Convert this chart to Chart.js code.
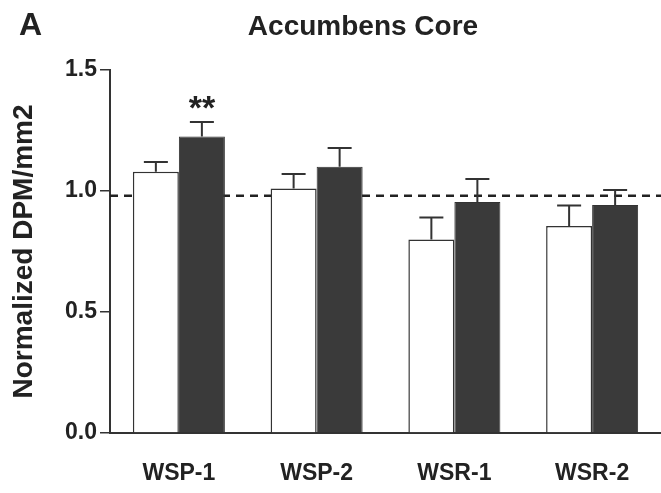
<!DOCTYPE html>
<html>
<head>
<meta charset="utf-8">
<script src="https://cdn.jsdelivr.net/npm/chart.js@4.4.1/dist/chart.umd.min.js"></script>
<style>
    html, body { margin: 0; padding: 0; background: #fff; }
    #wrap { width: 661px; height: 493px; position: relative; }
</style>
</head>
<body>
<div id="wrap"><canvas id="grafico"></canvas></div>
<script>
const categorias = ['WSP-1', 'WSP-2', 'WSR-1', 'WSR-2'];
const valoresAbertos = [1.08, 1.01, 0.80, 0.855];
const errosAbertos = [0.04, 0.06, 0.09, 0.085];
const valoresCheios = [1.225, 1.10, 0.955, 0.942];
const errosCheios = [0.06, 0.078, 0.095, 0.062];
const ticksY = [0.0, 0.5, 1.0, 1.5];
const linhaReferencia = 0.98;
const marcasSignificancia = ['**', '', '', '']; // sobre as barras cheias

const fonte = '"Liberation Sans", Arial, sans-serif';
const corEscura = '#333333';

// linha tracejada + barras de erro + textos extras
const pluginExtras = {
    id: 'extras',
    beforeDatasetsDraw(chart) {
        const ctx = chart.ctx;
        const area = chart.chartArea;
        const y = chart.scales.y.getPixelForValue(linhaReferencia);
        ctx.save();
        ctx.strokeStyle = '#222';
        ctx.lineWidth = 2.5;
        ctx.setLineDash([8, 6]);
        ctx.beginPath();
        ctx.moveTo(area.left, y);
        ctx.lineTo(area.right, y);
        ctx.stroke();
        ctx.restore();
    },
    afterDatasetsDraw(chart) {
        const ctx = chart.ctx;
        const escalaY = chart.scales.y;
        const erros = [errosAbertos, errosCheios];

        ctx.save();
        ctx.strokeStyle = corEscura;
        ctx.lineWidth = 2;
        for (let d = 0; d < chart.data.datasets.length; d++) {
            const meta = chart.getDatasetMeta(d);
            const valores = chart.data.datasets[d].data;
            for (let i = 0; i < meta.data.length; i++) {
                const barra = meta.data[i];
                const topo = escalaY.getPixelForValue(valores[i]);
                const fim = escalaY.getPixelForValue(valores[i] + erros[d][i]);
                ctx.beginPath();
                ctx.moveTo(barra.x, topo);
                ctx.lineTo(barra.x, fim);
                ctx.moveTo(barra.x - 12, fim);
                ctx.lineTo(barra.x + 12, fim);
                ctx.stroke();
            }
        }

        // asteriscos
        const metaCheia = chart.getDatasetMeta(1);
        ctx.fillStyle = '#222';
        ctx.font = 'bold 34px ' + fonte;
        ctx.textAlign = 'center';
        ctx.textBaseline = 'alphabetic';
        for (let i = 0; i < marcasSignificancia.length; i++) {
            if (!marcasSignificancia[i]) continue;
            const yCap = escalaY.getPixelForValue(valoresCheios[i] + errosCheios[i]);
            ctx.fillText(marcasSignificancia[i], metaCheia.data[i].x, yCap - 3);
        }

        // titulo e letra do painel
        ctx.textAlign = 'left';
        ctx.font = 'bold 32px ' + fonte;
        ctx.fillText('A', 19, 35);
        ctx.textAlign = 'center';
        ctx.font = 'bold 28px ' + fonte;
        ctx.fillText('Accumbens Core', 363, 35);
        ctx.restore();
    }
};

const ctxGrafico = document.getElementById('grafico');

const grafico = new Chart(ctxGrafico, {
    type: 'bar',
    data: {
        labels: categorias,
        datasets: [
            {
                label: 'Aberto',
                data: valoresAbertos,
                backgroundColor: '#ffffff',
                borderColor: corEscura,
                borderWidth: 1.5,
                borderSkipped: 'bottom'
            },
            {
                label: 'Cheio',
                data: valoresCheios,
                backgroundColor: '#3a3a3a',
                borderColor: corEscura,
                borderWidth: 1,
                borderSkipped: 'bottom'
            }
        ]
    },
    options: {
        responsive: true,
        maintainAspectRatio: false,
        animation: false,
        layout: { padding: { top: 70, left: 0, right: 0, bottom: 0 } },
        plugins: {
            legend: { display: false },
            tooltip: { enabled: false }
        },
        datasets: {
            bar: { categoryPercentage: 0.668, barPercentage: 1.0 }
        },
        scales: {
            x: {
                grid: { display: false, drawTicks: false },
                border: { display: true, color: corEscura, width: 2 },
                ticks: {
                    color: '#222',
                    padding: 27,
                    font: { family: fonte, size: 23, weight: 'bold' }
                },
                afterFit(scale) { scale.height = 60; }
            },
            y: {
                min: 0,
                max: 1.5,
                afterBuildTicks(scale) {
                    scale.ticks = ticksY.map(v => ({ value: v }));
                },
                grid: {
                    drawOnChartArea: false,
                    drawTicks: true,
                    tickLength: 10,
                    color: corEscura,
                    lineWidth: 1.5
                },
                border: { display: true, color: corEscura, width: 2 },
                ticks: {
                    color: '#222',
                    padding: 3,
                    font: { family: fonte, size: 23, weight: 'bold' },
                    callback: (v) => Number(v).toFixed(1)
                },
                title: {
                    display: true,
                    text: 'Normalized DPM/mm2',
                    color: '#222',
                    padding: { top: 7 },
                    font: { family: fonte, size: 28, weight: 'bold' }
                },
                afterFit(scale) { scale.width = 110; }
            }
        }
    },
    plugins: [pluginExtras]
});
</script>
</body>
</html>
